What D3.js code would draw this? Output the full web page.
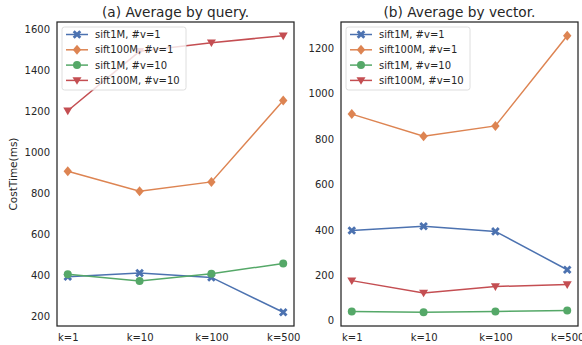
<!DOCTYPE html>
<html>
<head>
<meta charset="utf-8">
<script src="https://cdn.jsdelivr.net/npm/d3@7"></script>
<style>
  body { margin: 0; background: #fff; }
  svg, svg text { font-family: 'DejaVu Sans', sans-serif; }
  svg { display: block; }
</style>
</head>
<body>
<div id="chart"></div>
<script>
const categories = ['k=1', 'k=10', 'k=100', 'k=500'];
const seriesNames = ['sift1M, #v=1', 'sift100M, #v=1', 'sift1M, #v=10', 'sift100M, #v=10'];

// (a) average by query
const queryS1 = [395, 413, 392, 222];
const queryS2 = [910, 812, 858, 1255];
const queryS3 = [408, 375, 410, 460];
const queryS4 = [1205, 1495, 1537, 1571];

// (b) average by vector
const vectorS1 = [397, 416, 393, 224];
const vectorS2 = [910, 812, 858, 1255];
const vectorS3 = [40, 37, 40, 44];
const vectorS4 = [176, 122, 150, 159];

const yTicksA = [200, 400, 600, 800, 1000, 1200, 1400, 1600];
const yTicksB = [0, 200, 400, 600, 800, 1000, 1200];

const colors = ['#4c72b0', '#dd8452', '#55a868', '#c44e52'];
const markers = ['X', 'D', 'o', 'v'];
const ink = '#262626';

const width = 582;
const height = 345;

const svg = d3.select('#chart')
    .append('svg')
    .attr('width', width)
    .attr('height', height);

const markerPath = (type) => {
    switch (type) {
        case 'X': {
            const a = 4.3, b = 2.0;
            return `M${-a},${-a + b}L${-b},0L${-a},${a - b}L${-a + b},${a}L0,${b}L${a - b},${a}L${a},${a - b}L${b},0L${a},${-a + b}L${a - b},${-a}L0,${-b}L${-a + b},${-a}Z`;
        }
        case 'D':
            return 'M0,-5L4.2,0L0,5L-4.2,0Z';
        case 'o':
            return d3.symbol(d3.symbolCircle, 50)();
        case 'v':
            return 'M-4.5,-3.2L4.5,-3.2L0,4.4Z';
    }
};

const drawPanel = (opts) => {
    const { x0, x1, y0, y1, series, yDomain, yTicks, title, ylabel, legendX } = opts;

    // matplotlib style margins: 5% of data range on both sides
    const step = (x1 - x0) / (categories.length - 1 + 0.3);
    const x = d3.scalePoint()
        .domain(categories)
        .range([x0 + step * 0.15, x1 - step * 0.15])
        .padding(0);

    const y = d3.scaleLinear().domain(yDomain).range([y1, y0]);

    const g = svg.append('g');

    // y axis
    const yAxis = g.append('g')
        .attr('transform', `translate(${x0},0)`)
        .call(d3.axisLeft(y).tickValues(yTicks).tickFormat(d3.format('d')).tickSize(0).tickPadding(7));
    yAxis.select('.domain').remove();
    yAxis.attr('font-family', null).attr('font-size', null);
    yAxis.selectAll('text').attr('fill', ink).style('font-size', '10px');

    // x axis
    const xAxis = g.append('g')
        .attr('transform', `translate(0,${y1})`)
        .call(d3.axisBottom(x).tickSize(0).tickPadding(8));
    xAxis.select('.domain').remove();
    xAxis.attr('font-family', null).attr('font-size', null);
    xAxis.selectAll('text').attr('fill', ink).style('font-size', '10px');

    const line = d3.line()
        .x((d, i) => x(categories[i]))
        .y(d => y(d));

    const plot = g.append('g');
    series.forEach((vals, si) => {
        plot.append('path')
            .datum(vals)
            .attr('d', line)
            .attr('fill', 'none')
            .attr('stroke', colors[si])
            .attr('stroke-width', 1.5);
        plot.selectAll(null)
            .data(vals)
            .join('path')
            .attr('transform', (d, i) => `translate(${x(categories[i])},${y(d)})`)
            .attr('d', markerPath(markers[si]))
            .attr('fill', colors[si]);
    });

    // legend
    const lg = g.append('g').attr('transform', `translate(${legendX},27)`);
    lg.append('rect')
        .attr('width', 124)
        .attr('height', 63)
        .attr('rx', 2.5)
        .attr('fill', 'rgba(255,255,255,0.8)')
        .attr('stroke', '#d6d6d6')
        .attr('stroke-width', 0.8);
    seriesNames.forEach((name, si) => {
        const ly = 7.5 + si * 15.3;
        lg.append('line')
            .attr('x1', 4).attr('x2', 26)
            .attr('y1', ly).attr('y2', ly)
            .attr('stroke', colors[si])
            .attr('stroke-width', 1.5);
        lg.append('path')
            .attr('transform', `translate(15,${ly})`)
            .attr('d', markerPath(markers[si]))
            .attr('fill', colors[si]);
        lg.append('text')
            .attr('x', 33)
            .attr('y', ly)
            .attr('dy', '0.35em')
            .attr('fill', ink)
            .style('font-size', '10px')
            .text(name);
    });

    // frame
    g.append('rect')
        .attr('x', x0).attr('y', y0)
        .attr('width', x1 - x0).attr('height', y1 - y0)
        .attr('fill', 'none')
        .attr('stroke', ink)
        .attr('stroke-width', 1.25);

    // title
    g.append('text')
        .attr('x', (x0 + x1) / 2)
        .attr('y', 17)
        .attr('text-anchor', 'middle')
        .attr('fill', ink)
        .style('font-size', '13.7px')
        .text(title);

    if (ylabel) {
        g.append('text')
            .attr('transform', `translate(17,${(y0 + y1) / 2}) rotate(-90)`)
            .attr('text-anchor', 'middle')
            .attr('fill', ink)
            .style('font-size', '10.5px')
            .text(ylabel);
    }
};

drawPanel({
    x0: 57, x1: 294, y0: 22, y1: 326,
    series: [queryS1, queryS2, queryS3, queryS4],
    yDomain: [155, 1638],
    yTicks: yTicksA,
    title: '(a) Average by query.',
    ylabel: 'CostTime(ms)',
    legendX: 62
});

drawPanel({
    x0: 341, x1: 578, y0: 22, y1: 326,
    series: [vectorS1, vectorS2, vectorS3, vectorS4],
    yDomain: [-24, 1316],
    yTicks: yTicksB,
    title: '(b) Average by vector.',
    ylabel: null,
    legendX: 346
});
</script>
</body>
</html>
